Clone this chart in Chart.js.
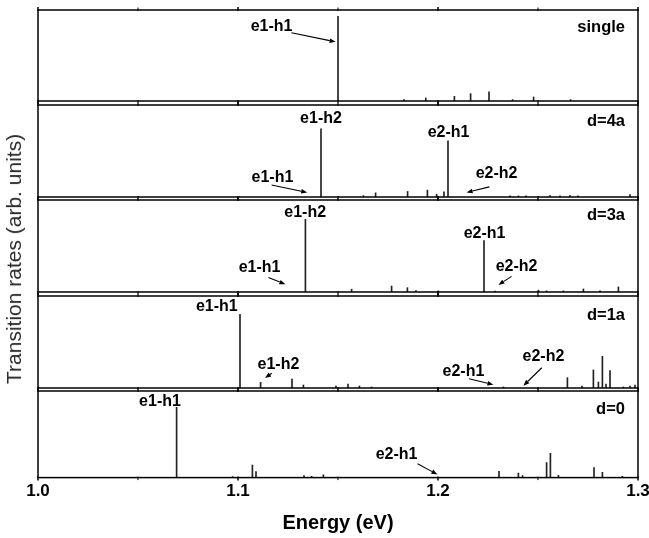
<!DOCTYPE html>
<html>
<head>
<meta charset="utf-8">
<script src="https://cdn.jsdelivr.net/npm/chart.js@4.4.1/dist/chart.umd.min.js"></script>
<style>
  html, body { margin: 0; padding: 0; background: #fff; }
  #wrap { position: relative; width: 649px; height: 538px; overflow: hidden; }
  canvas { position: absolute; left: 0; }
  #ytitle {
    position: absolute; left: 14px; top: 259px;
    transform: translate(-50%, -50%) rotate(-90deg);
    white-space: nowrap; color: #2a2a2a;
    font: 21px "Liberation Sans", Arial, sans-serif;
  }
</style>
</head>
<body>
<div id="wrap">
  <canvas id="p0"></canvas>
  <canvas id="p1"></canvas>
  <canvas id="p2"></canvas>
  <canvas id="p3"></canvas>
  <canvas id="p4"></canvas>
  <div id="ytitle">Transition rates (arb. units)</div>
</div>
<script>
// transition energies (eV) and relative rates, one pair per panel
const singleE = [1.150, 1.183, 1.1939, 1.2082, 1.2163, 1.2255, 1.2373, 1.2478, 1.2663];
const singleR = [0.93, 0.015, 0.033, 0.052, 0.081, 0.10, 0.015, 0.044, 0.015];

const d4aE = [1.1415, 1.1627, 1.1688, 1.1848, 1.1947, 1.1993, 1.203, 1.205, 1.236, 1.2402, 1.244, 1.256, 1.261, 1.266, 1.27, 1.296];
const d4aR = [0.74, 0.015, 0.045, 0.06, 0.075, 0.03, 0.055, 0.61, 0.012, 0.012, 0.012, 0.015, 0.012, 0.015, 0.012, 0.025];

const d3aE = [1.1337, 1.1568, 1.1768, 1.1847, 1.189, 1.2002, 1.223, 1.2285, 1.2502, 1.2543, 1.2627, 1.2727, 1.281, 1.2902];
const d3aR = [0.79, 0.03, 0.065, 0.047, 0.015, 0.012, 0.56, 0.01, 0.02, 0.012, 0.012, 0.033, 0.012, 0.055];

const d1aE = [1.101, 1.1113, 1.127, 1.1327, 1.149, 1.155, 1.1607, 1.1668, 1.2327, 1.2647, 1.272, 1.2777, 1.2802, 1.2822, 1.284, 1.286, 1.2927, 1.296, 1.2985];
const d1aR = [0.80, 0.062, 0.098, 0.033, 0.022, 0.043, 0.022, 0.011, 0.011, 0.112, 0.022, 0.196, 0.065, 0.345, 0.043, 0.19, 0.011, 0.022, 0.033];

const d0E = [1.0693, 1.0973, 1.1072, 1.109, 1.133, 1.1368, 1.1427, 1.2305, 1.2402, 1.2423, 1.2543, 1.2562, 1.2602, 1.278, 1.2822, 1.2922];
const d0R = [0.81, 0.011, 0.146, 0.069, 0.022, 0.016, 0.033, 0.073, 0.051, 0.022, 0.172, 0.281, 0.027, 0.117, 0.062, 0.016];

const panelNames = ['single', 'd=4a', 'd=3a', 'd=1a', 'd=0'];
const xTickValues = [1.0, 1.1, 1.2, 1.3];
const xMinorTicks = [1.05, 1.15, 1.25];

// transition labels: text position and optional arrow [x0, y0, x1, y1] in data units
const notes = [
  [{ t: 'e1-h1', x: 1.1168, y: 0.82, a: [1.1267, 0.75, 1.1488, 0.65] }],
  [{ t: 'e1-h2', x: 1.1415, y: 0.85 },
   { t: 'e2-h1', x: 1.2053, y: 0.70 },
   { t: 'e1-h1', x: 1.1172, y: 0.21, a: [1.1168, 0.13, 1.1346, 0.05] },
   { t: 'e2-h2', x: 1.2293, y: 0.25, a: [1.2257, 0.11, 1.2143, 0.05] }],
  [{ t: 'e1-h2', x: 1.1336, y: 0.86 },
   { t: 'e2-h1', x: 1.2233, y: 0.64 },
   { t: 'e1-h1', x: 1.1108, y: 0.27, a: [1.1152, 0.157, 1.1237, 0.084] },
   { t: 'e2-h2', x: 1.2393, y: 0.28, a: [1.2368, 0.17, 1.2302, 0.077] }],
  [{ t: 'e1-h1', x: 1.0894, y: 0.88 },
   { t: 'e1-h2', x: 1.1202, y: 0.25, a: [1.1169, 0.16, 1.1135, 0.11] },
   { t: 'e2-h1', x: 1.2127, y: 0.18, a: [1.2155, 0.10, 1.2277, 0.036] },
   { t: 'e2-h2', x: 1.2527, y: 0.34, a: [1.2519, 0.22, 1.2427, 0.025] }],
  [{ t: 'e1-h1', x: 1.061, y: 0.876 },
   { t: 'e2-h1', x: 1.1793, y: 0.26, a: [1.1898, 0.16, 1.1997, 0.036] }]
];
const nameY = [0.805, 0.82, 0.83, 0.79, 0.79];

const series = [[singleE, singleR], [d4aE, d4aR], [d3aE, d3aR], [d1aE, d1aR], [d0E, d0R]];
const boxes = [[10, 101], [105, 197], [200, 292], [296, 388], [391, 482]];
const FONT = '"Liberation Sans", Arial, sans-serif';

const panelDeco = {
  id: 'panelDeco',
  afterDraw(chart, args, opts) {
    const { ctx, chartArea: a, scales: { x, y } } = chart;
    ctx.save();
    ctx.strokeStyle = '#000';
    ctx.fillStyle = '#000';
    ctx.lineWidth = 1.5;
    ctx.strokeRect(a.left, a.top, a.right - a.left, a.bottom - a.top);

    // ticks on top and bottom edges
    const tick = (v, len) => {
      const px = x.getPixelForValue(v);
      ctx.beginPath();
      ctx.moveTo(px, a.bottom - 1); ctx.lineTo(px, a.bottom + len);
      ctx.moveTo(px, a.top + 1); ctx.lineTo(px, a.top - len);
      ctx.stroke();
    };
    ctx.lineWidth = 1.5;
    xTickValues.forEach(v => tick(v, 3));
    ctx.lineWidth = 1;
    xMinorTicks.forEach(v => tick(v, 2.5));

    ctx.font = 'bold 16px ' + FONT;
    ctx.textBaseline = 'middle';
    ctx.textAlign = 'center';
    ctx.lineWidth = 1.1;
    opts.notes.forEach(n => {
      ctx.fillText(n.t, x.getPixelForValue(n.x), y.getPixelForValue(n.y));
      if (n.a) {
        const x0 = x.getPixelForValue(n.a[0]), y0 = y.getPixelForValue(n.a[1]);
        const x1 = x.getPixelForValue(n.a[2]), y1 = y.getPixelForValue(n.a[3]);
        const ang = Math.atan2(y1 - y0, x1 - x0);
        const hl = 6, hw = 2.3;
        ctx.beginPath();
        ctx.moveTo(x0, y0);
        ctx.lineTo(x1 - hl * Math.cos(ang), y1 - hl * Math.sin(ang));
        ctx.stroke();
        ctx.beginPath();
        ctx.moveTo(x1, y1);
        ctx.lineTo(x1 - hl * Math.cos(ang) + hw * Math.sin(ang), y1 - hl * Math.sin(ang) - hw * Math.cos(ang));
        ctx.lineTo(x1 - hl * Math.cos(ang) - hw * Math.sin(ang), y1 - hl * Math.sin(ang) + hw * Math.cos(ang));
        ctx.closePath();
        ctx.fill();
      }
    });

    ctx.font = 'bold 16.5px ' + FONT;
    ctx.textAlign = 'right';
    ctx.fillText(opts.name, x.getPixelForValue(1.2935), y.getPixelForValue(opts.nameY));
    ctx.restore();
  }
};

series.forEach(([E, R], i) => {
  const last = i === series.length - 1;
  const [top, bottom] = boxes[i];
  const el = document.getElementById('p' + i);
  const canvasTop = top - 3;
  const h = last ? 538 - canvasTop : bottom - top + 6;
  el.width = 649;
  el.height = h;
  el.style.top = canvasTop + 'px';

  new Chart(el, {
    type: 'bar',
    data: {
      datasets: [{
        data: E.map((x, k) => ({ x, y: R[k] })),
        backgroundColor: '#222',
        borderWidth: 0,
        barThickness: 1
      }]
    },
    options: {
      responsive: false,
      animation: false,
      events: [],
      layout: { padding: { left: 38, right: 11, top: 3, bottom: last ? 0 : 3 } },
      plugins: {
        legend: { display: false },
        tooltip: { enabled: false },
        panelDeco: { notes: notes[i], name: panelNames[i], nameY: nameY[i] }
      },
      scales: {
        x: {
          type: 'linear',
          min: 1.0,
          max: 1.3,
          offset: false,
          display: last,
          grid: { display: false, drawTicks: false },
          border: { display: false },
          afterBuildTicks: (s) => { s.ticks = xTickValues.map(v => ({ value: v })); },
          afterFit: (s) => { s.paddingLeft = 0; s.paddingRight = 0; },
          ticks: {
            padding: 4,
            color: '#000',
            font: { family: FONT, size: 17, weight: 'bold' },
            callback: (v) => Number(v).toFixed(1)
          },
          title: {
            display: true,
            text: 'Energy (eV)',
            color: '#000',
            padding: { top: 5, bottom: 3 },
            font: { family: FONT, size: 20, weight: 'bold' }
          }
        },
        y: { min: 0, max: 1, display: false }
      }
    },
    plugins: [panelDeco]
  });
});
</script>
</body>
</html>
